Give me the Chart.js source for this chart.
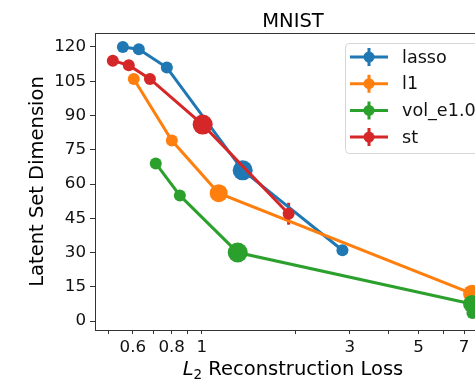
<!DOCTYPE html>
<html>
<head>
<meta charset="utf-8">
<script src="https://cdn.jsdelivr.net/npm/chart.js@4.4.1/dist/chart.umd.min.js"></script>
<style>
  html, body { margin: 0; padding: 0; background: #fff; overflow: hidden; }
  #wrap { width: 475px; height: 381px; overflow: hidden; }
</style>
</head>
<body>
<div id="wrap"><canvas id="chart" width="500" height="381"></canvas></div>
<script>
// Data
const lassoX = [0.557, 0.627, 0.772, 1.355, 2.84];
const lassoY = [120, 119, 111, 66, 31];
const lassoErr = [0.5, 0.5, 0.5, 0.5, 0.5];
const lassoSize = [6, 6, 6, 10, 6];

const l1X = [0.604, 0.801, 1.134, 7.43];
const l1Y = [106, 79, 56, 12];
const l1Err = [0.5, 0.5, 0.5, 0.5];
const l1Size = [6, 6, 9, 9];

const volX = [0.711, 0.850, 1.306, 7.43, 7.45];
const volY = [69, 55, 30, 7.5, 3.5];
const volErr = [0.5, 0.5, 0.5, 0.5, 0.5];
const volSize = [6, 6, 10, 9, 6];

const stX = [0.517, 0.582, 0.681, 1.007, 1.905];
const stY = [114, 112, 106, 86, 47];
const stErr = [0.5, 0.5, 0.5, 0.5, 4.8];
const stSize = [6, 6, 6, 10, 6];

const xTicks = [0.5, 0.6, 0.7, 0.8, 0.9, 1, 2, 3, 4, 5, 6, 7, 8];
const xLabelled = [0.6, 0.8, 1, 3, 5, 7];
const yTicks = [0, 15, 30, 45, 60, 75, 90, 105, 120];

const FONT = "'DejaVu Sans', sans-serif";

function series(label, xs, ys, errs, sizes, color, order) {
    return {
        label: label,
        data: xs.map((x, i) => ({ x: x, y: ys[i] })),
        errs: errs,
        borderColor: color,
        backgroundColor: color,
        borderWidth: 3,
        pointRadius: sizes,
        pointHoverRadius: sizes,
        pointBorderWidth: 0,
        showLine: true,
        order: order
    };
}

const datasets = [
    series('lasso', lassoX, lassoY, lassoErr, lassoSize, '#1f77b4', 3),
    series('l1', l1X, l1Y, l1Err, l1Size, '#ff7f0e', 2),
    series('vol_e1.0', volX, volY, volErr, volSize, '#2ca02c', 1),
    series('st', stX, stY, stErr, stSize, '#d62728', 0)
];

// Error bars, drawn below the markers
const errorBars = {
    id: 'errorBars',
    beforeDatasetsDraw(chart) {
        const ctx = chart.ctx, xs = chart.scales.x, ys = chart.scales.y;
        ctx.save();
        ctx.lineWidth = 3;
        chart.data.datasets.forEach(ds => {
            ctx.strokeStyle = ds.borderColor;
            ds.data.forEach((p, i) => {
                const px = xs.getPixelForValue(p.x);
                ctx.beginPath();
                ctx.moveTo(px, ys.getPixelForValue(p.y - ds.errs[i]));
                ctx.lineTo(px, ys.getPixelForValue(p.y + ds.errs[i]));
                ctx.stroke();
            });
        });
        ctx.restore();
    }
};

// Frame, title, axis labels and legend in matplotlib style
const decorations = {
    id: 'decorations',
    afterDraw(chart) {
        const ctx = chart.ctx, a = chart.chartArea;
        ctx.save();
        ctx.strokeStyle = '#333';
        ctx.lineWidth = 1;
        ctx.beginPath();
        ctx.moveTo(a.left, a.top + 0.5);
        ctx.lineTo(a.right, a.top + 0.5);
        ctx.lineTo(a.right - 0.5, a.bottom);
        ctx.stroke();

        const cx = (a.left + a.right) / 2;
        ctx.fillStyle = '#000';
        ctx.textAlign = 'center';
        ctx.textBaseline = 'alphabetic';
        ctx.font = '19.5px ' + FONT;
        ctx.fillText('MNIST', cx, 27);

        // x label with italic L and subscript 2
        const rest = ' Reconstruction Loss';
        ctx.font = 'italic 19.5px ' + FONT;
        const wL = ctx.measureText('L').width;
        ctx.font = '13.5px ' + FONT;
        const w2 = ctx.measureText('2').width;
        ctx.font = '19.5px ' + FONT;
        const wR = ctx.measureText(rest).width;
        let x0 = cx - (wL + w2 + wR) / 2;
        ctx.textAlign = 'left';
        ctx.font = 'italic 19.5px ' + FONT;
        ctx.fillText('L', x0, 375);
        ctx.font = '13.5px ' + FONT;
        ctx.fillText('2', x0 + wL, 379);
        ctx.font = '19.5px ' + FONT;
        ctx.fillText(rest, x0 + wL + w2, 375);

        // y label
        ctx.save();
        ctx.translate(43, (a.top + a.bottom) / 2);
        ctx.rotate(-Math.PI / 2);
        ctx.textAlign = 'center';
        ctx.fillText('Latent Set Dimension', 0, 0);
        ctx.restore();

        // legend
        const bx = 345, by = 43, bw = 170, bh = 110, r = 4;
        ctx.beginPath();
        ctx.moveTo(bx + r, by + 0.5);
        ctx.lineTo(bx + bw, by + 0.5);
        ctx.lineTo(bx + bw, by + bh + 0.5);
        ctx.lineTo(bx + r, by + bh + 0.5);
        ctx.arcTo(bx + 0.5, by + bh + 0.5, bx + 0.5, by + bh - r, r);
        ctx.lineTo(bx + 0.5, by + r);
        ctx.arcTo(bx + 0.5, by + 0.5, bx + r, by + 0.5, r);
        ctx.closePath();
        ctx.fillStyle = 'rgba(255,255,255,0.8)';
        ctx.fill();
        ctx.strokeStyle = '#d6d6d6';
        ctx.stroke();

        ctx.font = '17.6px ' + FONT;
        ctx.textBaseline = 'middle';
        ctx.textAlign = 'left';
        chart.data.datasets.forEach((ds, i) => {
            const y = 57 + i * 26.7;
            ctx.strokeStyle = ds.borderColor;
            ctx.fillStyle = ds.borderColor;
            ctx.lineWidth = 3;
            ctx.beginPath();
            ctx.moveTo(350, y);
            ctx.lineTo(388, y);
            ctx.moveTo(369, y - 9);
            ctx.lineTo(369, y + 9);
            ctx.stroke();
            ctx.beginPath();
            ctx.arc(369, y, 5.5, 0, Math.PI * 2);
            ctx.fill();
            ctx.fillStyle = '#111';
            ctx.fillText(ds.label, 402, y + 1);
        });
        ctx.restore();
    }
};

new Chart(document.getElementById('chart').getContext('2d'), {
    type: 'scatter',
    data: { datasets: datasets },
    options: {
        responsive: false,
        animation: false,
        devicePixelRatio: 1,
        layout: { padding: { left: 0, top: 33, right: 8, bottom: 0 } },
        plugins: {
            legend: { display: false },
            tooltip: { enabled: false }
        },
        scales: {
            x: {
                type: 'logarithmic',
                min: 0.453,
                max: 8.55,
                afterBuildTicks: s => { s.ticks = xTicks.map(v => ({ value: v, major: v === 1 })); },
                afterFit: s => { s.height = 51; },
                ticks: {
                    autoSkip: false,
                    maxRotation: 0,
                    padding: 4,
                    color: '#111',
                    font: { family: FONT, size: 16.7 },
                    callback: v => xLabelled.includes(v) ? String(v) : ''
                },
                grid: {
                    drawOnChartArea: false,
                    tickLength: 4,
                    tickColor: '#333',
                    tickWidth: 1
                },
                border: { display: true, color: '#333', width: 1 }
            },
            y: {
                min: -3.9,
                max: 126.1,
                afterBuildTicks: s => { s.ticks = yTicks.map(v => ({ value: v })); },
                afterFit: s => { s.width = 95; },
                ticks: {
                    padding: 4,
                    color: '#111',
                    font: { family: FONT, size: 16.7 }
                },
                grid: {
                    drawOnChartArea: false,
                    tickLength: 5,
                    tickColor: '#333',
                    tickWidth: 1
                },
                border: { display: true, color: '#333', width: 1 }
            }
        }
    },
    plugins: [errorBars, decorations]
});
</script>
</body>
</html>
